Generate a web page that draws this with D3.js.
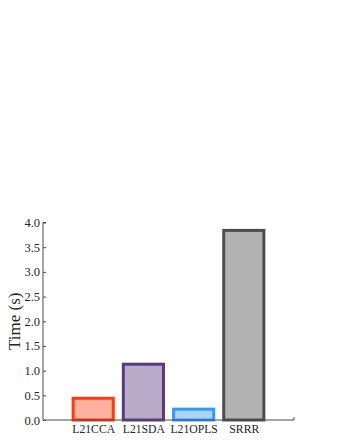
<!DOCTYPE html>
<html><head><meta charset="utf-8">
<script src="https://cdn.jsdelivr.net/npm/d3@7"></script>
<style>body{margin:0;background:#fff}</style>
</head><body>
<svg id="c" width="346" height="448"></svg>
<script>
const categories = ["L21CCA","L21SDA","L21OPLS","SRRR"];
const values = [0.44, 1.13, 0.22, 3.84];
const fills = ["#FFB19F","#BBABCB","#AAD3FF","#B3B3B3"];
const strokes = ["#FF3A10","#583A82","#3399FF","#4D4D4D"];
const yTicks = [0,0.5,1,1.5,2,2.5,3,3.5,4];

const svg = d3.select("#c");
const x = d3.scaleLinear().domain([0,5]).range([43,294]);
const y = d3.scaleLinear().domain([0,4]).range([420,222.5]);
const font = "'Liberation Serif','Times New Roman',serif";
const axisColor = "#4a4a4a";

// bars
const bw = 0.8;
svg.selectAll("rect.bar").data(values).enter().append("rect")
  .attr("class","bar")
  .attr("x",(d,i)=>x(i+1-bw/2))
  .attr("width",x(bw)-x(0))
  .attr("y",d=>y(d))
  .attr("height",d=>y(0)-y(d))
  .attr("fill",(d,i)=>fills[i])
  .attr("stroke",(d,i)=>strokes[i])
  .attr("stroke-width",3);

// y axis
const yAxis = d3.axisRight(y).tickValues(yTicks).tickSize(3).tickFormat(d3.format(".1f"));
const gy = svg.append("g").attr("transform",`translate(${x(0)},0)`).call(yAxis)
  .attr("font-family",font).attr("font-size",12.5);
gy.select(".domain").attr("stroke",axisColor).attr("d",`M3,${y(4)}H0V${y(0)}`);
gy.selectAll(".tick line").attr("stroke",axisColor);
gy.selectAll(".tick text").attr("x",-3).attr("text-anchor","end")
  .style("font-family",font).style("font-size","12.5px").attr("fill","#262626");

// x axis
const xAxis = d3.axisBottom(x).tickValues([1,2,3,4]).tickSize(0).tickFormat((d)=>categories[d-1]);
const gx = svg.append("g").attr("transform",`translate(0,${y(0)})`).call(xAxis)
  .attr("font-family",font).attr("font-size",11.7);
gx.select(".domain").attr("stroke",axisColor).attr("d",`M${x(0)},0H${x(5)}V-3`);
gx.selectAll(".tick text").attr("y",13).attr("dy",0)
  .style("font-family",font).style("font-size","11.7px").attr("fill","#262626");

// y label
svg.append("text")
  .attr("transform",`translate(20,${(y(0)+y(4))/2}) rotate(-90)`)
  .attr("text-anchor","middle")
  .style("font-family",font).style("font-size","17px").attr("fill","#262626")
  .text("Time (s)");
</script>
</body></html>
